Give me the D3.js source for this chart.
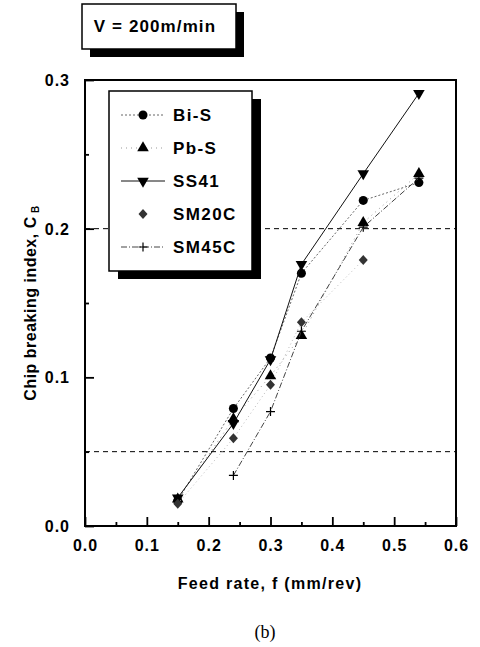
<!DOCTYPE html>
<html>
<head>
<meta charset="utf-8">
<script src="https://cdn.jsdelivr.net/npm/d3@7"></script>
<style>
    body { margin: 0; background: #fff; }
    text { font-family: "Liberation Sans", Arial, sans-serif; }
</style>
</head>
<body>
<svg id="chartSvg" width="480" height="647"></svg>
<script>
// values (b), V = 200 m/min
var feedRate = [0.15, 0.24, 0.30, 0.35, 0.45, 0.54];
var biS   = [0.017, 0.079, 0.113, 0.170, 0.219, 0.231];
var pbS   = [0.018, 0.072, 0.101, 0.128, 0.204, 0.237];
var ss41  = [0.019, 0.069, 0.112, 0.176, 0.237, 0.291];
var sm20c = [0.015, 0.059, 0.095, 0.137, 0.179, null];
var sm45c = [null, 0.034, 0.077, 0.131, 0.201, 0.234];

var seriesNames = ["Bi-S", "Pb-S", "SS41", "SM20C", "SM45C"];
var xTicks = [0.0, 0.1, 0.2, 0.3, 0.4, 0.5, 0.6];
var yTicks = [0.0, 0.1, 0.2, 0.3];
var refLines = [0.2, 0.05];

var svg = d3.select("#chartSvg");

var x = d3.scaleLinear().domain([0, 0.6]).range([85, 456]);
var y = d3.scaleLinear().domain([0, 0.3]).range([526, 80]);

var series = [
    { name: seriesNames[0], values: biS,   symbol: "circle",  dash: "2,2",     stroke: "#666", legendLine: true },
    { name: seriesNames[1], values: pbS,   symbol: "tri",     dash: "1,4",     stroke: "#999", legendLine: true },
    { name: seriesNames[2], values: ss41,  symbol: "triDown", dash: null,      stroke: "#111", legendLine: true },
    { name: seriesNames[3], values: sm20c, symbol: "diamond", dash: "1,3",     stroke: "#bbb", legendLine: false },
    { name: seriesNames[4], values: sm45c, symbol: "plus",    dash: "6,2,1,2", stroke: "#444", legendLine: true }
];

function markerPath(kind) {
    if (kind === "circle") return d3.symbol().type(d3.symbolCircle).size(64)();
    if (kind === "tri" || kind === "triDown") return d3.symbol().type(d3.symbolTriangle).size(58)();
    if (kind === "diamond") return "M0,-5L4.5,0L0,5L-4.5,0Z";
    return "M-4.5,0H4.5M0,-4.5V4.5";
}

function drawMarker(g, kind, px, py) {
    var m = g.append("path")
        .attr("d", markerPath(kind))
        .attr("transform", "translate(" + px + "," + py + ")" + (kind === "triDown" ? " rotate(180)" : ""));
    if (kind === "plus") {
        m.attr("fill", "none").attr("stroke", "#000").attr("stroke-width", 1.2);
    } else {
        m.attr("fill", kind === "diamond" ? "#333" : "#000");
    }
}

// reference dashed lines
svg.append("g").selectAll("line")
    .data(refLines)
    .enter().append("line")
    .attr("x1", x(0)).attr("x2", x(0.6))
    .attr("y1", function (d) { return y(d); })
    .attr("y2", function (d) { return y(d); })
    .attr("stroke", "#000")
    .attr("stroke-width", 1)
    .attr("stroke-dasharray", "5,4");

// series lines and markers
series.forEach(function (s) {
    var pts = [];
    for (var i = 0; i < feedRate.length; i++) {
        if (s.values[i] !== null) pts.push([feedRate[i], s.values[i]]);
    }
    var line = d3.line()
        .x(function (d) { return x(d[0]); })
        .y(function (d) { return y(d[1]); });
    svg.append("path")
        .attr("d", line(pts))
        .attr("fill", "none")
        .attr("stroke", s.stroke)
        .attr("stroke-width", 1)
        .attr("stroke-dasharray", s.dash);
    var g = svg.append("g");
    pts.forEach(function (p) {
        drawMarker(g, s.symbol, x(p[0]), y(p[1]));
    });
});

// axes (ticks inside)
var xMinor = d3.range(0.05, 0.6, 0.1);
var yMinor = d3.range(0.05, 0.3, 0.1);

svg.append("g")
    .attr("transform", "translate(0," + y(0) + ")")
    .call(d3.axisBottom(x).tickValues(xMinor).tickSize(-4).tickFormat(""))
    .call(function (g) { g.select(".domain").remove(); });
var xAxis = svg.append("g")
    .attr("transform", "translate(0," + y(0) + ")")
    .call(d3.axisBottom(x).tickValues(xTicks).tickSize(-9).tickPadding(14).tickFormat(d3.format(".1f")));

svg.append("g")
    .attr("transform", "translate(" + x(0) + ",0)")
    .call(d3.axisLeft(y).tickValues(yMinor).tickSize(-4).tickFormat(""))
    .call(function (g) { g.select(".domain").remove(); });
var yAxis = svg.append("g")
    .attr("transform", "translate(" + x(0) + ",0)")
    .call(d3.axisLeft(y).tickValues(yTicks).tickSize(-9).tickPadding(15).tickFormat(d3.format(".1f")));

svg.selectAll(".tick line").attr("stroke-width", 1.8);
[xAxis, yAxis].forEach(function (a) {
    a.select(".domain").remove();
    a.selectAll("text")
        .style("font-size", "16px")
        .style("font-weight", "bold")
        .style("letter-spacing", "1px")
        .attr("fill", "#000");
});
yAxis.selectAll("text").attr("dy", "0.35em");

// plot frame
svg.append("rect")
    .attr("x", x(0)).attr("y", y(0.3))
    .attr("width", x(0.6) - x(0))
    .attr("height", y(0) - y(0.3))
    .attr("fill", "none")
    .attr("stroke", "#000")
    .attr("stroke-width", 2);

// axis titles
svg.append("text")
    .attr("x", 270).attr("y", 589)
    .attr("text-anchor", "middle")
    .style("font-size", "16px")
    .style("font-weight", "bold")
    .style("letter-spacing", "1.3px")
    .text("Feed rate, f (mm/rev)");

var yTitle = svg.append("text")
    .attr("transform", "translate(36,303) rotate(-90)")
    .attr("text-anchor", "middle")
    .style("font-size", "16px")
    .style("font-weight", "bold")
    .style("letter-spacing", "0.5px");
yTitle.append("tspan").text("Chip breaking index, C");
yTitle.append("tspan").attr("dy", 3).style("font-size", "10px").text(" B");

svg.append("text")
    .attr("x", 265).attr("y", 638)
    .attr("text-anchor", "middle")
    .style("font-family", "'Liberation Serif', 'DejaVu Serif', serif")
    .style("font-size", "18px")
    .text("(b)");

// V box
svg.append("rect").attr("x", 90).attr("y", 12).attr("width", 154).attr("height", 45).attr("fill", "#000");
svg.append("rect").attr("x", 82).attr("y", 4).attr("width", 154).attr("height", 45)
    .attr("fill", "#fff").attr("stroke", "#000").attr("stroke-width", 1.5);
svg.append("text")
    .attr("x", 155).attr("y", 32)
    .attr("text-anchor", "middle")
    .style("font-size", "17px")
    .style("font-weight", "bold")
    .style("letter-spacing", "1.1px")
    .text("V = 200m/min");

// legend
var legend = svg.append("g");
legend.append("rect").attr("x", 118).attr("y", 99).attr("width", 143).attr("height", 180).attr("fill", "#000");
legend.append("rect").attr("x", 109).attr("y", 91).attr("width", 143).attr("height", 180)
    .attr("fill", "#fff").attr("stroke", "#000").attr("stroke-width", 1.5);

var legendY = d3.scalePoint().domain(seriesNames).range([115, 247]);

series.forEach(function (s) {
    var ly = legendY(s.name);
    if (s.legendLine) {
        legend.append("line")
            .attr("x1", 121).attr("x2", 165)
            .attr("y1", ly).attr("y2", ly)
            .attr("stroke", s.stroke)
            .attr("stroke-width", 1)
            .attr("stroke-dasharray", s.dash);
    }
    drawMarker(legend, s.symbol, 143, ly);
    legend.append("text")
        .attr("x", 173).attr("y", ly)
        .attr("dy", "0.36em")
        .style("font-size", "17px")
        .style("font-weight", "bold")
        .style("letter-spacing", "1.4px")
        .text(s.name);
});
</script>
</body>
</html>
